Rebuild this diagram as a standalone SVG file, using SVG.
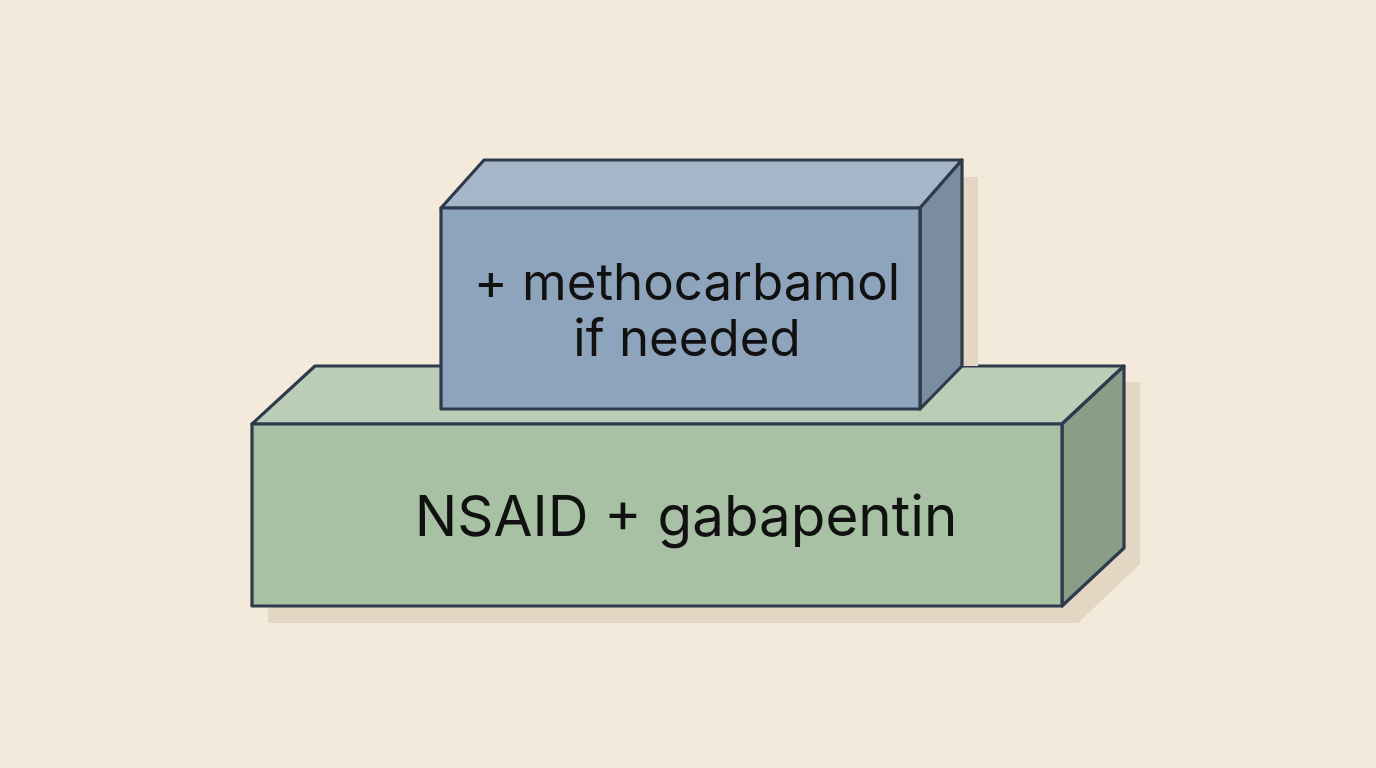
<svg xmlns="http://www.w3.org/2000/svg" width="1376" height="768" viewBox="0 0 1376 768">
<style>
.edge{stroke:#2f3a4c;stroke-width:3.2;stroke-linejoin:round}
.shadow{fill:#e3d6c3}
.lbl{font-family:Inter,"Liberation Sans",sans-serif;fill:#111;text-anchor:middle}
</style>
<rect width="1376" height="768" fill="#f4eadb"/>
<g id="base">
<polygon class="shadow" points="268,440 331,382 1140,382 1140,564 1078,623 268,623"/>
<polygon class="edge" fill="#bccdb7" points="252,424 315,366 1124,366 1062,424"/>
<polygon class="edge" fill="#8a9d86" points="1062,424 1124,366 1124,548 1062,606"/>
<rect class="edge" fill="#a8c1a5" x="252" y="424" width="810" height="182"/>
<text class="lbl" x="686" y="536" font-size="56.5">NSAID + gabapentin</text>
</g>
<g id="top">
<polygon class="shadow" points="962,177 978,177 978,366 962,366"/>
<polygon class="edge" fill="#a6b6c9" points="441,208 484,160 962,160 920,208"/>
<polygon class="edge" fill="#7a8c9f" points="920,208 962,160 962,366 920,409"/>
<rect class="edge" fill="#8ea4bc" x="441" y="208" width="479" height="201"/>
<text class="lbl" x="687" y="300" font-size="51">+ methocarbamol</text>
<text class="lbl" x="687" y="356" font-size="51">if needed</text>
</g>
<g id="connectors"/>
</svg>
